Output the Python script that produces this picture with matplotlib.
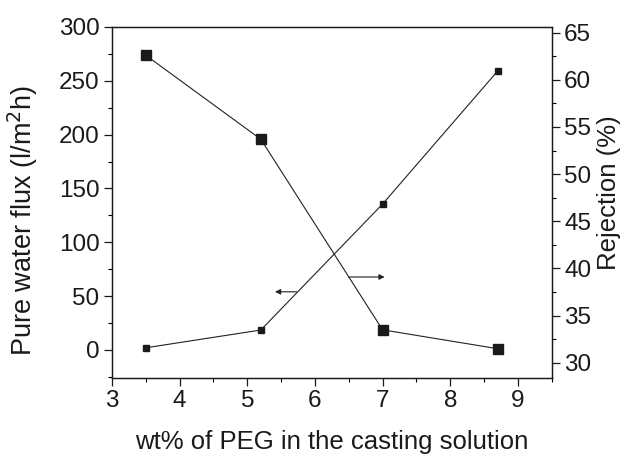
import matplotlib
matplotlib.use("Agg")
import matplotlib.pyplot as plt
from matplotlib.ticker import MultipleLocator

peg = [3.5, 5.2, 7.0, 8.7]
flux = [2, 18.5, 135.5, 259]
rejection = [62.6, 53.7, 33.5, 31.5]

plt.rcParams['font.family'] = ['Liberation Sans', 'DejaVu Sans']

fig = plt.figure(figsize=(6.22, 4.57), dpi=100)
ax = fig.add_axes([0.180, 0.173, 0.707, 0.768])
ax2 = ax.twinx()

ax.plot(peg, flux, '-', color='#222222', lw=0.8, marker='s', ms=5, mfc='#1a1a1a', mec='#1a1a1a')
ax2.plot(peg, rejection, '-', color='#222222', lw=0.8, marker='s', ms=7.5, mfc='#1a1a1a', mec='#1a1a1a')

ax.set_xlim(3, 9.5)
ax.set_ylim(-26, 300)
ax2.set_ylim(28.4, 65.6)

ax.xaxis.set_major_locator(MultipleLocator(1))
ax.xaxis.set_minor_locator(MultipleLocator(0.5))
ax.yaxis.set_major_locator(MultipleLocator(50))
ax.yaxis.set_minor_locator(MultipleLocator(25))
ax2.yaxis.set_major_locator(MultipleLocator(5))
ax2.yaxis.set_minor_locator(MultipleLocator(2.5))

for a in (ax, ax2):
    a.tick_params(which='major', direction='out', length=6, width=0.9, labelsize=17.5, colors='#1a1a1a', pad=3)
    a.tick_params(which='minor', direction='out', length=3, width=0.8)
    for s in a.spines.values():
        s.set_linewidth(0.9)
        s.set_color('#1a1a1a')

ax.set_xlabel('wt% of PEG in the casting solution', fontsize=18.5, color='#1a1a1a')
ax.set_ylabel('Pure water flux (l/m$^2$h)', fontsize=19.5, color='#1a1a1a')
ax2.set_ylabel('Rejection (%)', fontsize=18.5, color='#1a1a1a')
ax.xaxis.set_label_coords(0.5, -0.148)
ax.yaxis.set_label_coords(-0.164, 0.45)
ax2.yaxis.set_label_coords(1.104, 0.527)

ax.annotate('', xy=(5.41, 54), xytext=(5.73, 54),
            arrowprops=dict(arrowstyle='-|>', color='#222222', lw=0.8, mutation_scale=8, shrinkA=0, shrinkB=0))
ax2.annotate('', xy=(7.03, 39.1), xytext=(6.5, 39.1),
             arrowprops=dict(arrowstyle='-|>', color='#222222', lw=0.8, mutation_scale=8, shrinkA=0, shrinkB=0))

fig.savefig('out.png', dpi=100)
